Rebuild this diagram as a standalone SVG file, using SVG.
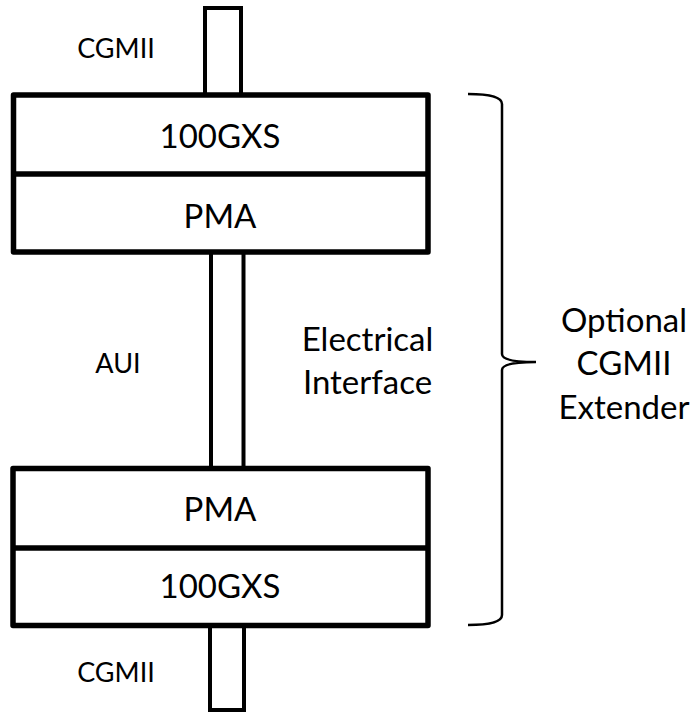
<svg xmlns="http://www.w3.org/2000/svg" width="699" height="712" viewBox="0 0 699 712">
<style>
text{font-family:Lato,"Liberation Sans",sans-serif;fill:#000;text-anchor:middle}
.big{font-size:33px}
.small{font-size:27px}
.box{fill:#fff;stroke:#000;stroke-width:5.5;stroke-linejoin:round}
.div{stroke:#000;stroke-width:5.5}
.bar{fill:#fff;stroke:#000;stroke-width:4}
.brace{fill:none;stroke:#000;stroke-width:2.5}
</style>
<rect width="699" height="712" fill="#fff"/>
<g id="connectors">
<rect class="bar" x="205" y="8" width="36" height="87"/>
<rect class="bar" x="211" y="252" width="32.5" height="216"/>
<rect class="bar" x="210" y="626" width="34" height="84"/>
</g>
<g id="top-stack">
<rect class="box" x="13.5" y="95" width="414.5" height="157"/>
<line class="div" x1="13.5" y1="174" x2="428" y2="174"/>
<text class="big" x="220" y="148">100GXS</text>
<text class="big" x="220" y="228">PMA</text>
</g>
<g id="bottom-stack">
<rect class="box" x="13" y="468.5" width="415" height="157"/>
<line class="div" x1="13" y1="548" x2="428" y2="548"/>
<text class="big" x="220" y="521">PMA</text>
<text class="big" x="220" y="598">100GXS</text>
</g>
<g id="labels">
<text class="small" x="116" y="58">CGMII</text>
<text class="small" x="118" y="373">AUI</text>
<text class="small" x="116" y="682">CGMII</text>
<text class="big" x="367.5" y="351">Electrical</text>
<text class="big" x="367.5" y="394">Interface</text>
</g>
<g id="brace">
<path class="brace" d="M468,94 Q502,94 502,104 L502,354 Q502,362 536,362 Q502,362 502,370 L502,615 Q502,625 468,625"/>
<text class="big" x="624" y="332">Optional</text>
<text class="big" x="624" y="375">CGMII</text>
<text class="big" x="624" y="419">Extender</text>
</g>
</svg>
